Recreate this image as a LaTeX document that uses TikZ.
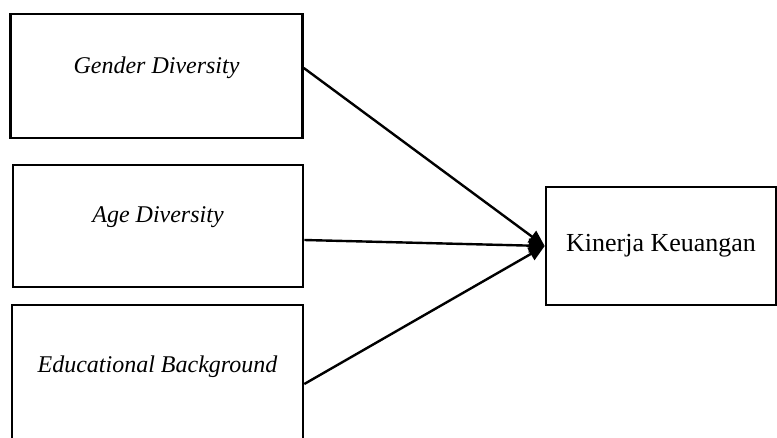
\documentclass[tikz,border=0pt]{standalone}
\usepackage{fontspec}
\setmainfont{Liberation Serif}
\usetikzlibrary{arrows.meta}
\newcommand{\BoxF}{\fontsize{24}{28}\selectfont}
\newcommand{\OutF}{\fontsize{26}{30}\selectfont}
\tikzset{
  varbox/.style={draw, line width=2.6pt, minimum width=292pt, inner sep=0pt,
    font=\BoxF\itshape, text depth=22pt},
  linkarr/.style={line width=2.4pt, -{Triangle[length=16pt,width=14pt]}}
}

\begin{document}
\begin{tikzpicture}[x=1pt,y=-1pt]
\useasboundingbox (0,0) rectangle (777,437);
\node[varbox, minimum height=124pt] (gender) at (156.5,76) {Gender Diversity};
\node[varbox, minimum height=122pt, minimum width=290pt] (age) at (158,226) {Age Diversity};
\node[varbox, minimum height=140pt, minimum width=291pt] (edu) at (157.5,375) {Educational Background};
\node[draw, line width=2.6pt, minimum width=230pt, minimum height=118pt, inner sep=0pt,
  font=\OutF] (kinerja) at (661,246) {Kinerja Keuangan};
\draw[linkarr] ([yshift=8pt]gender.east) -- (kinerja.west);
\draw[linkarr] ([yshift=-14pt]age.east) -- (kinerja.west);
\draw[linkarr] ([yshift=-9pt]edu.east) -- (kinerja.west);
\end{tikzpicture}
\end{document}
